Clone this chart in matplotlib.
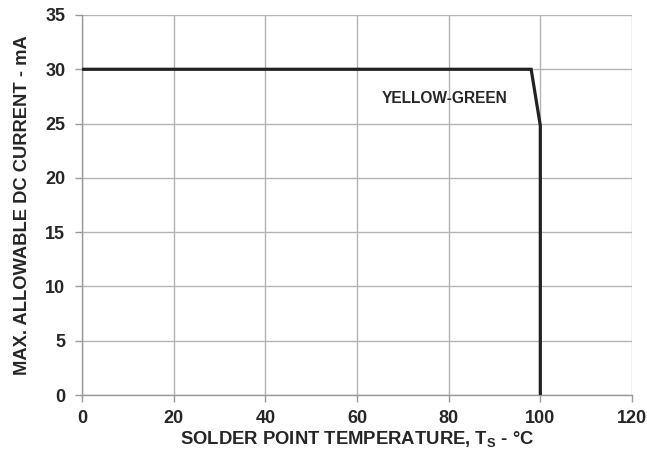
import numpy as np
import matplotlib
matplotlib.use("Agg")
import matplotlib.pyplot as plt

# curve data
temp = [0, 98, 100, 100]
current = [30, 30, 24.8, 0]
x_ticks = [0, 20, 40, 60, 80, 100, 120]
y_ticks = [0, 5, 10, 15, 20, 25, 30, 35]

plt.rcParams['font.family'] = 'Liberation Sans'
plt.rcParams['font.weight'] = 'bold'
plt.rcParams['mathtext.fontset'] = 'custom'
plt.rcParams['mathtext.rm'] = 'Liberation Sans:bold'
plt.rcParams['mathtext.bf'] = 'Liberation Sans:bold'
plt.rcParams['mathtext.default'] = 'bf'

txt = '#262626'
grid_c = '#b4b4b4'

fig = plt.figure(figsize=(6.47, 4.5), dpi=100)
ax = fig.add_axes([0.1267, 0.1222, 0.8501, 0.8445])

ax.plot(temp, current, color='#222222', lw=2.3, solid_joinstyle='miter', zorder=3)

ax.set_xlim(0, 120)
ax.set_ylim(0, 35)
ax.set_xticks(x_ticks)
ax.set_yticks(y_ticks)
ax.grid(True, color=grid_c, lw=1.0)
ax.set_axisbelow(True)
for s in ['top', 'right']:
    ax.spines[s].set_visible(False)
for s in ['left', 'bottom']:
    ax.spines[s].set_color('#999999')
    ax.spines[s].set_linewidth(1.0)
ax.tick_params(axis='both', direction='out', length=5, width=1.0, color='#999999',
               labelsize=13, labelcolor=txt)
ax.tick_params(axis='x', pad=6)
ax.tick_params(axis='y', pad=7)

ax.set_xlabel('SOLDER POINT TEMPERATURE, T$_{S}$ - °C', fontsize=13.3, color=txt,
              fontweight='bold', labelpad=1)
ax.set_ylabel('MAX. ALLOWABLE DC CURRENT - mA', fontsize=13.2, color=txt,
              fontweight='bold', labelpad=10)

ax.text(79.2, 27.35, 'YELLOW-GREEN', ha='center', va='center', fontsize=11.2,
        color=txt, fontweight='bold')

fig.savefig('out.png', dpi=100)
